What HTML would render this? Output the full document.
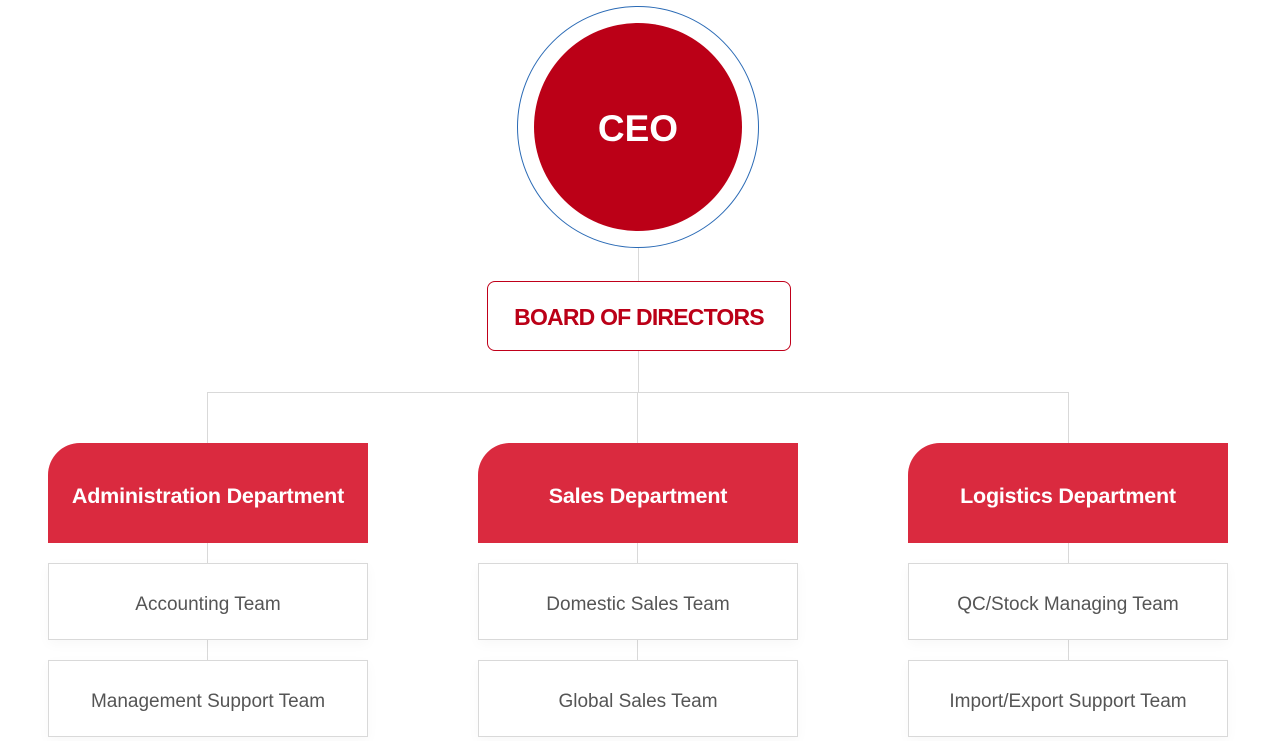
<!DOCTYPE html>
<html><head><meta charset="utf-8"><style>
html,body{margin:0;padding:0;background:#fff;}
body{width:1276px;height:741px;position:relative;overflow:hidden;font-family:"Liberation Sans",sans-serif;}
.a{position:absolute;box-sizing:border-box;}
.v{position:absolute;width:1px;background:#d9d9d9;}
.h{position:absolute;height:1px;background:#d9d9d9;}
.dept{position:absolute;box-sizing:border-box;width:320px;height:100px;top:443px;background:#da2a3f;border-top-left-radius:32px;color:#fff;font-weight:bold;font-size:21.5px;display:flex;align-items:center;justify-content:center;padding-top:6px;letter-spacing:-0.2px;}
.team{position:absolute;box-sizing:border-box;width:320px;height:77px;background:#fff;border:1px solid #d9d9d9;color:#555;font-size:19px;display:flex;align-items:center;justify-content:center;padding-top:6px;box-shadow:0 4px 12px rgba(0,0,0,0.03);}
</style></head><body>
<div class="v" style="left:638px;top:248px;height:34px"></div>
<div class="v" style="left:638px;top:351px;height:41px"></div>
<div class="h" style="left:207px;top:392px;width:862px"></div>
<div class="v" style="left:207px;top:392px;height:51px"></div>
<div class="v" style="left:637px;top:392px;height:51px"></div>
<div class="v" style="left:1068px;top:392px;height:51px"></div>
<div class="v" style="left:207px;top:543px;height:117px"></div>
<div class="v" style="left:637px;top:543px;height:117px"></div>
<div class="v" style="left:1068px;top:543px;height:117px"></div>

<div class="a" style="left:517px;top:6px;width:242px;height:242px;border:1px solid #2a6ab5;border-radius:50%;background:#fff"></div>
<div class="a" style="left:534px;top:23px;width:208px;height:208px;border-radius:50%;background:#bb0017;color:#fff;font-weight:bold;font-size:37px;display:flex;align-items:center;justify-content:center;padding-top:4px">CEO</div>

<div class="a" style="left:487px;top:281px;width:304px;height:70px;border:1px solid #c0001a;border-radius:8px;background:#fff;color:#bb0017;font-weight:bold;font-size:23px;display:flex;align-items:center;justify-content:center;padding-top:3px;letter-spacing:-0.8px">BOARD OF DIRECTORS</div>

<div class="dept" style="left:48px">Administration Department</div>
<div class="dept" style="left:478px">Sales Department</div>
<div class="dept" style="left:908px">Logistics Department</div>

<div class="team" style="left:48px;top:563px">Accounting Team</div>
<div class="team" style="left:48px;top:660px">Management Support Team</div>
<div class="team" style="left:478px;top:563px">Domestic Sales Team</div>
<div class="team" style="left:478px;top:660px">Global Sales Team</div>
<div class="team" style="left:908px;top:563px">QC/Stock Managing Team</div>
<div class="team" style="left:908px;top:660px">Import/Export Support Team</div>
</body></html>
